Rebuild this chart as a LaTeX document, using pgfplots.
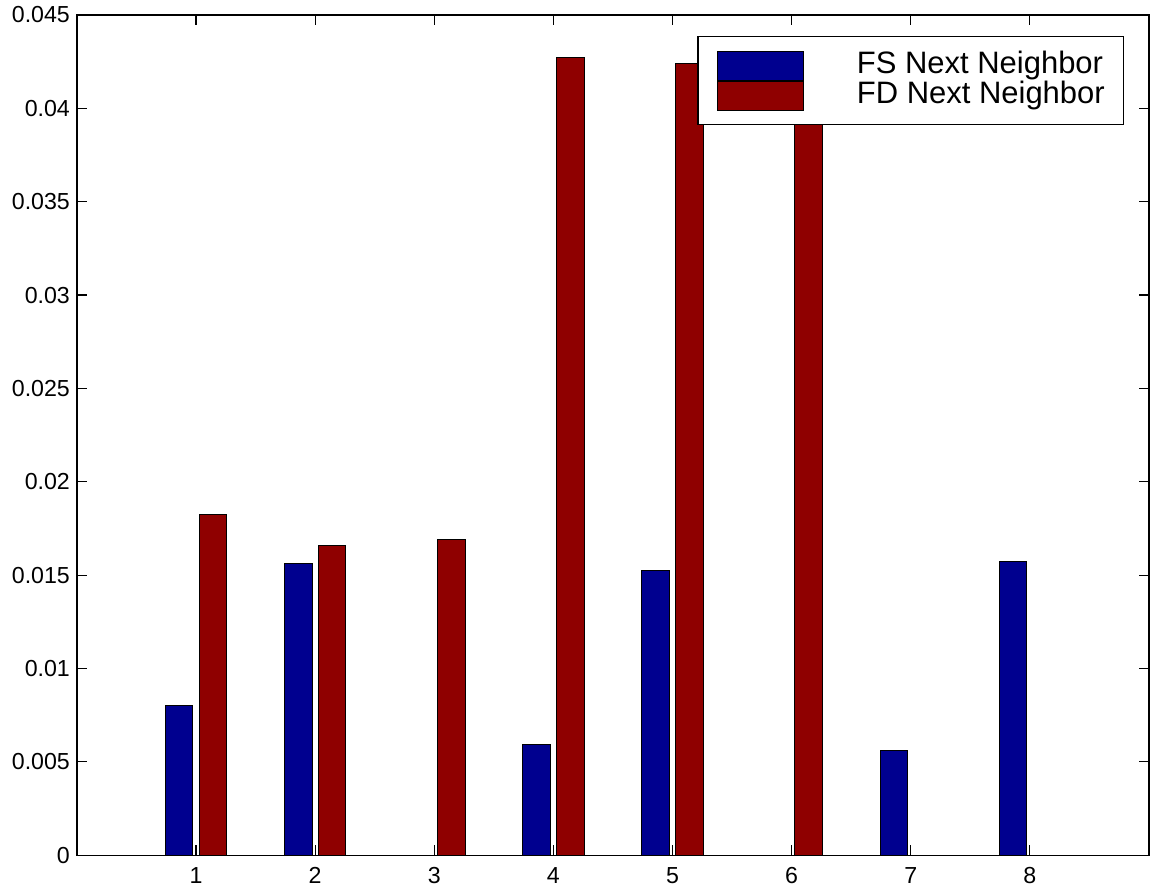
\documentclass[border=0pt]{standalone}
\usepackage{fontspec}
\setmainfont{Liberation Sans}
\usepackage{pgfplots}
\pgfplotsset{compat=1.18}
\usetikzlibrary{calc}
\definecolor{fsblue}{RGB}{0,0,143}
\definecolor{fdred}{RGB}{143,0,0}
\pgfplotsset{mylegend/.style={legend image code/.code={\draw[##1] (0pt,-7.25pt) rectangle (43pt,7.25pt);}}}
\begin{document}
\begin{tikzpicture}
\begin{axis}[
  name=ax,
  width=536.5pt, height=420.5pt, scale only axis,
  xmin=0, xmax=9, ymin=0, ymax=0.045,
  ybar,
  xtick={1,2,3,4,5,6,7,8},
  ytick={0,0.005,0.01,0.015,0.02,0.025,0.03,0.035,0.04,0.045},
  yticklabels={0,0.005,0.01,0.015,0.02,0.025,0.03,0.035,0.04,0.045},
  scaled y ticks=false,
  /pgf/number format/assume math mode=true,
  tick align=inside,
  major tick length=5pt,
  tick style={black, line width=0.6pt},
  axis line style={black, line width=0.6pt},
  ticklabel style={font=\fontsize{11.6}{13}\selectfont},
  xticklabel style={yshift=-2.6pt},
  legend cell align=left,
  legend style={at={(0.977,0.975)}, anchor=north east, draw=black, line width=0.6pt, fill=white,
    inner xsep=9.5pt, inner ysep=7pt, font=\fontsize{15.5}{17}\selectfont, row sep=0pt,
    nodes={inner sep=0pt, text height=11pt, text depth=3.5pt},
    /tikz/every odd column/.append style={column sep=26.5pt}},
]
\addplot[ybar, bar width=0.232, bar shift=-0.142, fill=fsblue, draw=black, line width=0.5pt, mylegend]
  coordinates {(1,0.0080) (2,0.01561) (3,0) (4,0.00595) (5,0.01526) (6,0) (7,0.00563) (8,0.01574)};
\addlegendentry{FS Next Neighbor}
\addplot[ybar, bar width=0.232, bar shift=0.142, fill=fdred, draw=black, line width=0.5pt, mylegend]
  coordinates {(1,0.01826) (2,0.01661) (3,0.01693) (4,0.04274) (5,0.04241) (6,0.0420) (7,0) (8,0)};
\addlegendentry{FD Next Neighbor}
\end{axis}
\pgfresetboundingbox
\path[use as bounding box] ($(ax.south west)+(-38.5pt,-17pt)$) rectangle ($(ax.north east)+(0.5pt,7.5pt)$);
\end{tikzpicture}
\end{document}
